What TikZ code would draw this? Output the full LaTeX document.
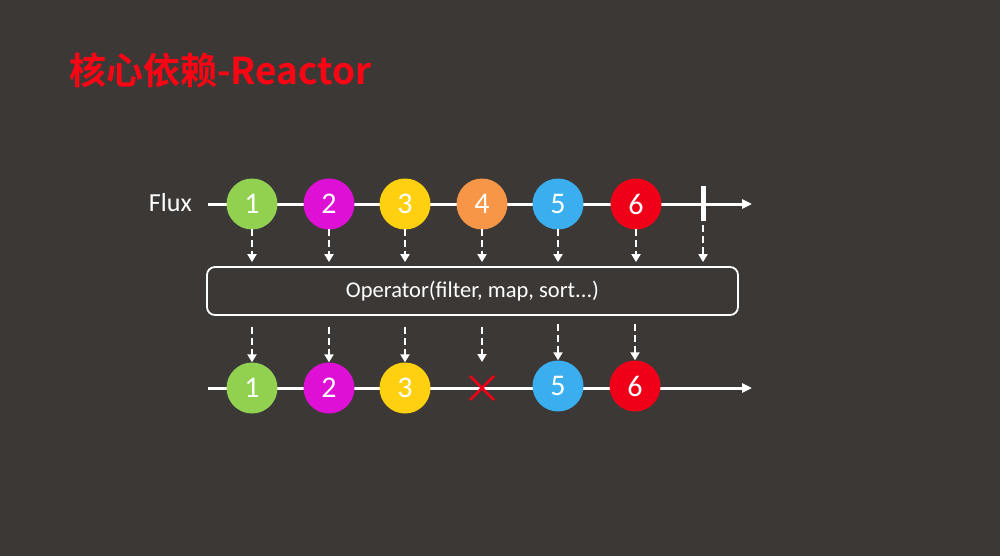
\documentclass[tikz,border=0pt]{standalone}
\usepackage{fontspec}
\setmainfont{Carlito}
\newfontfamily\cjkbold[BoldFont=* Bold]{Noto Sans CJK SC}
\usetikzlibrary{arrows.meta}
\definecolor{bg}{RGB}{60,56,54}
\definecolor{cgreen}{RGB}{146,208,80}
\definecolor{cmag}{RGB}{222,16,214}
\definecolor{cyel}{RGB}{255,208,16}
\definecolor{corange}{RGB}{247,150,70}
\definecolor{cblue}{RGB}{58,174,238}
\definecolor{cred}{RGB}{240,0,24}
\definecolor{ctitle}{RGB}{250,5,20}
\tikzset{
  ball/.style={circle, minimum size=51pt, inner sep=0pt, text=white,
    font=\fontsize{30}{32}\selectfont},
  axis/.style={draw=white, line width=3pt},
  flow/.style={draw=white, line width=2.8pt, dash pattern=on 7pt off 4pt,
    -{Triangle[length=8pt,width=9pt]}},
  opbox/.style={draw=white, line width=1.8pt, rounded corners=8pt,
    minimum width=531pt, minimum height=48pt, inner sep=0pt, text=white,
    font=\fontsize{22.5}{25}\selectfont}
}
\begin{document}
\begin{tikzpicture}[x=1pt,y=-1pt]
\fill[bg] (0,0) rectangle (1000,556);
\useasboundingbox (0,0) rectangle (1000,556);

\node[text=ctitle, anchor=west, inner sep=0pt, font=\cjkbold\bfseries\fontsize{37}{40}\selectfont] (title) at (69,70) {核心依赖-Reactor};

% top stream
\node[text=white, anchor=east, inner sep=0pt, font=\fontsize{26}{28}\selectfont] (flux) at (192,203) {Flux};
\coordinate (tstart) at (208,204);
\coordinate (tend) at (752,204);
\draw[axis, -{Triangle[length=10pt,width=9pt]}] (tstart) -- (tend);
\node[ball, fill=cgreen] (t1) at (252,204) {1};
\node[ball, fill=cmag] (t2) at (329,204) {2};
\node[ball, fill=cyel] (t3) at (405,204) {3};
\node[ball, fill=corange] (t4) at (482,204) {4};
\node[ball, fill=cblue] (t5) at (558,204) {5};
\node[ball, fill=cred] (t6) at (636,204) {6};
\coordinate (tc) at (703,204);
\draw[white, line width=5pt] ([yshift=-17pt]tc) coordinate (tcb) -- ([yshift=18pt]tc) coordinate (tct);

% operator box
\node[opbox] (op) at (472.5,291) {Operator(filter, map, sort...)};

% bottom stream
\coordinate (bstart) at (208,388);
\coordinate (bend) at (752,388);
\draw[axis, -{Triangle[length=10pt,width=9pt]}] (bstart) -- (bend);
\node[ball, fill=cgreen] (b1) at (252,388) {1};
\node[ball, fill=cmag] (b2) at (329,388) {2};
\node[ball, fill=cyel] (b3) at (405,388) {3};
\coordinate (b4) at (482,388);
\node[ball, fill=cblue] (b5) at (558,386) {5};
\node[ball, fill=cred] (b6) at (635,386) {6};
\draw[cred, line width=2.5pt] ([xshift=-12pt,yshift=-12pt]b4) -- ([xshift=12pt,yshift=12pt]b4)
  ([xshift=-12pt,yshift=12pt]b4) -- ([xshift=12pt,yshift=-12pt]b4);
\coordinate (b4top) at (482,362);

% top flows
\foreach \n in {t1,t2,t3,t4,t5,t6}
  \draw[flow, shorten <=-1pt, shorten >=4pt] (\n.south) -- (\n.south |- op.north);
\draw[flow, shorten <=6pt, shorten >=4pt] (tct) -- (tct |- op.north);

% bottom flows
\foreach \n in {b1,b2,b3}
  \draw[flow, shorten <=11pt, shorten >=0pt] (\n.north |- op.south) -- (\n.north);
\draw[flow, shorten <=11pt, shorten >=0pt] (b4top |- op.south) -- (b4top);
\foreach \n in {b5,b6}
  \draw[flow, shorten <=8pt, shorten >=0pt] (\n.north |- op.south) -- (\n.north);
\end{tikzpicture}
\end{document}
